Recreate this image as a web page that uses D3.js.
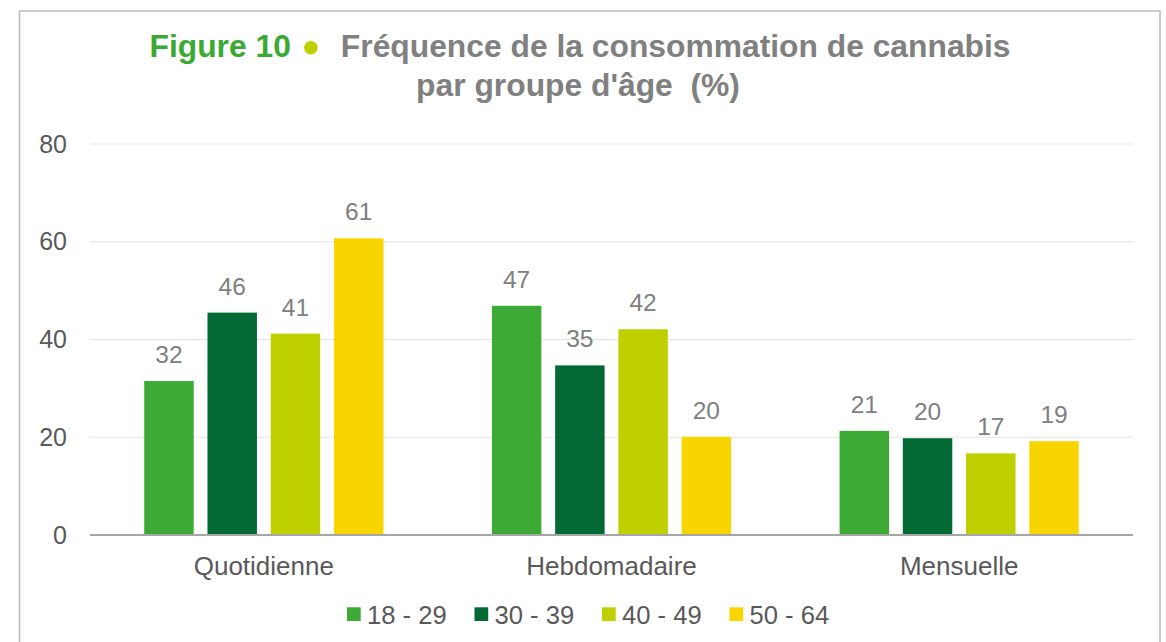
<!DOCTYPE html>
<html>
<head>
<meta charset="utf-8">
<script src="https://cdn.jsdelivr.net/npm/d3@7"></script>
<style>
  html, body { margin: 0; padding: 0; background: #fff; }
  svg { display: block; font-family: "Liberation Sans", Arial, sans-serif; }
</style>
</head>
<body>
<svg id="chart" width="1166" height="642"></svg>
<script>
const categories = ["Quotidienne", "Hebdomadaire", "Mensuelle"];
const seriesNames = ["18 - 29", "30 - 39", "40 - 49", "50 - 64"];
const seriesColors = ["#3caa35", "#026935", "#bed000", "#f9d500"];
// values per series, in category order
const s1829 = [31.5, 46.9, 21.3];
const s3039 = [45.5, 34.7, 19.8];
const s4049 = [41.2, 42.1, 16.7];
const s5064 = [60.7, 20.1, 19.2];
const seriesValues = [s1829, s3039, s4049, s5064];
const yTicks = [0, 20, 40, 60, 80];

const svg = d3.select("#chart");

// outer border
svg.append("path")
  .attr("d", "M19.5,660 L19.5,11 L1160,11 L1160,660")
  .attr("fill", "none").attr("stroke", "#bcbcbc").attr("stroke-width", 1.6);

const plot = { left: 90, right: 1133, top: 144, bottom: 535 };

const y = d3.scaleLinear().domain([0, 80]).range([plot.bottom, plot.top]);
const x0 = d3.scaleBand().domain(categories).range([plot.left, plot.right])
  .paddingInner(0.312).paddingOuter(0.156);
const x1 = d3.scaleBand().domain(seriesNames).range([0, x0.bandwidth()])
  .paddingInner(0.218).paddingOuter(0);

// gridlines
svg.append("g").selectAll("line").data(yTicks.filter(t => t > 0)).join("line")
  .attr("x1", plot.left).attr("x2", plot.right)
  .attr("y1", d => y(d)).attr("y2", d => y(d))
  .attr("stroke", "#e3e3e3").attr("stroke-width", 1.2);

// y tick labels
const yAxis = d3.axisLeft(y).tickValues(yTicks).tickSize(0).tickPadding(0);
const gy = svg.append("g").attr("transform", "translate(67,0)").call(yAxis);
gy.select(".domain").remove();
gy.selectAll("text").attr("font-size", 25).attr("fill", "#595959")
  .attr("font-family", "'Liberation Sans', Arial, sans-serif");

// bars
const groups = svg.append("g").selectAll("g").data(categories).join("g")
  .attr("transform", d => `translate(${x0(d)},0)`);

groups.each(function(cat, ci) {
  const g = d3.select(this);
  const data = seriesNames.map((s, si) => ({ s, si, v: seriesValues[si][ci] }));
  g.selectAll("rect").data(data).join("rect")
    .attr("x", d => x1(d.s)).attr("width", x1.bandwidth())
    .attr("y", d => y(d.v)).attr("height", d => y(0) - y(d.v))
    .attr("fill", d => seriesColors[d.si]);
  g.selectAll("text.lbl").data(data).join("text").attr("class", "lbl")
    .attr("x", d => x1(d.s) + x1.bandwidth() / 2)
    .attr("y", d => y(d.v) - 18)
    .attr("text-anchor", "middle").attr("font-size", 24.5).attr("fill", "#808080")
    .text(d => Math.round(d.v));
});

// x axis baseline
svg.append("line").attr("x1", plot.left).attr("x2", plot.right)
  .attr("y1", y(0)).attr("y2", y(0)).attr("stroke", "#a6a6a6").attr("stroke-width", 1.8);

// category labels
const xAxis = d3.axisBottom(x0).tickSize(0).tickPadding(0);
const gx = svg.append("g").attr("transform", `translate(0,${y(0)})`).call(xAxis);
gx.select(".domain").remove();
gx.selectAll("text").attr("font-size", 26).attr("fill", "#595959")
  .attr("font-family", "'Liberation Sans', Arial, sans-serif")
  .attr("dy", null).attr("y", 40);

// legend
const legendX = [347, 474.5, 602, 729.5];
const leg = svg.append("g").selectAll("g").data(seriesNames).join("g")
  .attr("transform", (d, i) => `translate(${legendX[i]},0)`);
leg.append("rect").attr("x", 0).attr("y", 607.3).attr("width", 13.7).attr("height", 13.7)
  .attr("fill", (d, i) => seriesColors[i]);
leg.append("text").attr("x", 20).attr("y", 623.5).attr("font-size", 25.6)
  .attr("fill", "#595959").text(d => d);

// title
const titleCenter = 580;
const t1 = svg.append("text").attr("y", 56.7).attr("font-size", 31.8).attr("font-weight", "bold");
const tg = t1.append("tspan").attr("fill", "#3aaa35").text("Figure 10");
const tr = t1.append("tspan").attr("fill", "#808080").attr("dx", 50)
  .text("Fréquence de la consommation de cannabis");
const wG = tg.node().getComputedTextLength();
const wR = tr.node().getComputedTextLength();
const total = wG + 50 + wR;
const xStart = titleCenter - total / 2;
t1.attr("x", xStart);
svg.append("circle").attr("cx", xStart + wG + 20).attr("cy", 47.7).attr("r", 6.8)
  .attr("fill", "#bed000");
svg.append("text").attr("x", titleCenter - 2).attr("y", 96)
  .attr("text-anchor", "middle").attr("font-size", 31.8).attr("font-weight", "bold")
  .attr("fill", "#808080").attr("xml:space", "preserve").style("white-space", "pre")
  .text("par groupe d'âge  (%)");
</script>
</body>
</html>
